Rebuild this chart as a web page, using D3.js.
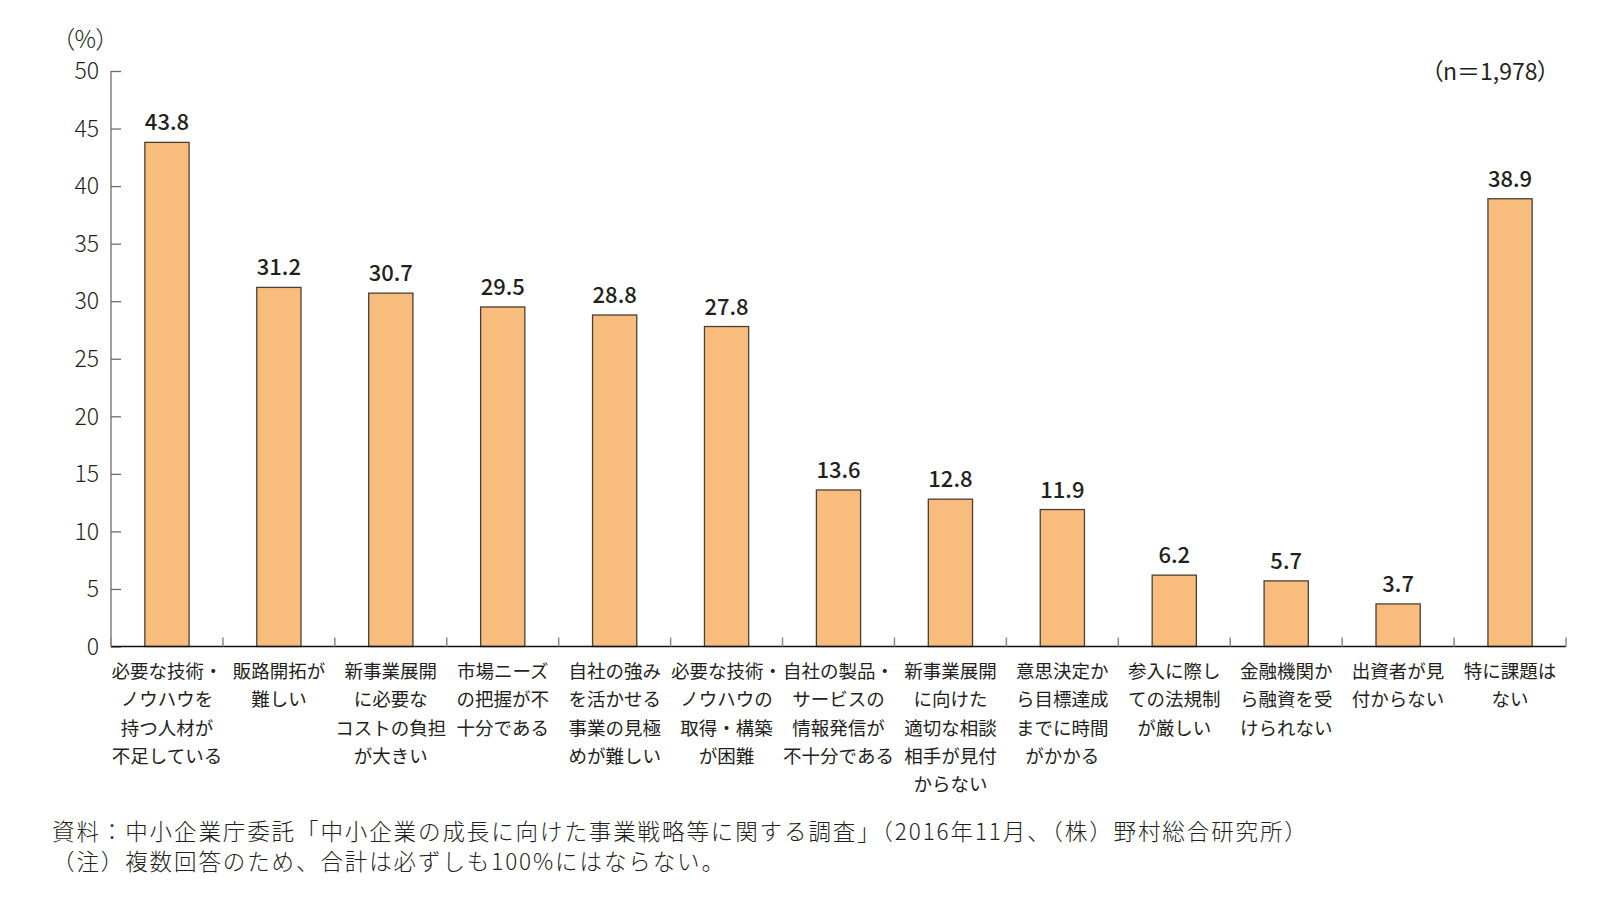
<!DOCTYPE html>
<html>
<head>
<meta charset="utf-8">
<script src="https://cdn.jsdelivr.net/npm/d3@7"></script>
<style>
  html, body { margin: 0; padding: 0; background: #fff; }
  svg text { font-family: "Noto Sans CJK JP", "Noto Sans", sans-serif; fill: #231f20; }
  .palt { font-feature-settings: "palt"; }
</style>
</head>
<body>
<svg id="chart" width="1600" height="901"></svg>
<script>
const categories = [
  ["必要な技術・", "ノウハウを", "持つ人材が", "不足している"],
  ["販路開拓が", "難しい"],
  ["新事業展開", "に必要な", "コストの負担", "が大きい"],
  ["市場ニーズ", "の把握が不", "十分である"],
  ["自社の強み", "を活かせる", "事業の見極", "めが難しい"],
  ["必要な技術・", "ノウハウの", "取得・構築", "が困難"],
  ["自社の製品・", "サービスの", "情報発信が", "不十分である"],
  ["新事業展開", "に向けた", "適切な相談", "相手が見付", "からない"],
  ["意思決定か", "ら目標達成", "までに時間", "がかかる"],
  ["参入に際し", "ての法規制", "が厳しい"],
  ["金融機関か", "ら融資を受", "けられない"],
  ["出資者が見", "付からない"],
  ["特に課題は", "ない"]
];
const values = [43.8, 31.2, 30.7, 29.5, 28.8, 27.8, 13.6, 12.8, 11.9, 6.2, 5.7, 3.7, 38.9];
const yTicks = [0, 5, 10, 15, 20, 25, 30, 35, 40, 45, 50];
const unitLabel = "（%）";
const nLabel = "（n＝1,978）";
const notes = [
  "資料：中小企業庁委託「中小企業の成長に向けた事業戦略等に関する調査」（2016年11月、（株）野村総合研究所）",
  "（注）複数回答のため、合計は必ずしも100%にはならない。"
];

const svg = d3.select("#chart");
const pLeft = 111, pRight = 1566, pTop = 71, pBottom = 646.5;

const ids = categories.map((c, i) => i);
const x = d3.scaleBand().domain(ids).range([pLeft, pRight]).padding(0);
const y = d3.scaleLinear().domain([0, 50]).range([pBottom, pTop]);
const barW = x.bandwidth() * 0.395;

// bars
svg.append("g").selectAll("rect").data(values).enter().append("rect")
  .attr("x", (d, i) => x(i) + (x.bandwidth() - barW) / 2)
  .attr("y", d => y(d))
  .attr("width", barW)
  .attr("height", d => y(0) - y(d))
  .attr("fill", "#f8bc7d")
  .attr("stroke", "#4a3f36")
  .attr("stroke-width", 1.3);

// value labels
svg.append("g").selectAll("text").data(values).enter().append("text")
  .attr("x", (d, i) => x(i) + x.bandwidth() / 2)
  .attr("y", d => y(d) - 12)
  .attr("text-anchor", "middle")
  .attr("font-size", 22)
  .attr("font-weight", 500)
  .text(d => d.toFixed(1));

// y axis
const yAxis = d3.axisRight(y).tickValues(yTicks).tickSize(10).tickFormat("");
const gy = svg.append("g").attr("transform", `translate(${pLeft},0)`).call(yAxis);
gy.select(".domain").attr("stroke", "#6d6d6d").attr("stroke-width", 1.3).attr("d", `M0,${pTop}V${pBottom}`);
gy.selectAll(".tick line").attr("stroke", "#6d6d6d").attr("stroke-width", 1.3);

svg.append("g").selectAll("text").data(yTicks).enter().append("text")
  .attr("x", pLeft - 12)
  .attr("y", d => y(d))
  .attr("dy", "0.36em")
  .attr("text-anchor", "end")
  .attr("font-size", 23)
  .attr("font-weight", 300)
  .text(d => d);

// x axis baseline + category boundary ticks
const boundaries = ids.map(i => x(i) + x.bandwidth()).concat([pLeft]);
svg.append("line").attr("x1", pLeft).attr("x2", pRight).attr("y1", pBottom).attr("y2", pBottom)
  .attr("stroke", "#111").attr("stroke-width", 1.6);
svg.append("g").selectAll("line").data(boundaries).enter().append("line")
  .attr("x1", d => d).attr("x2", d => d)
  .attr("y1", pBottom).attr("y2", pBottom - 9)
  .attr("stroke", "#8a8a8a").attr("stroke-width", 1.5);

// category labels
const cg = svg.append("g");
categories.forEach((lines, i) => {
  const t = cg.append("text")
    .attr("x", x(i) + x.bandwidth() / 2)
    .attr("y", 678)
    .attr("text-anchor", "middle")
    .attr("font-size", 18.5);
  lines.forEach((ln, j) => {
    t.append("tspan").attr("x", x(i) + x.bandwidth() / 2).attr("y", 678 + j * 28.3).text(ln);
  });
});

// unit and n
svg.append("text").attr("class", "palt").attr("x", 108).attr("y", 48).attr("text-anchor", "end")
  .attr("font-size", 24).attr("font-weight", 300).text(unitLabel);
svg.append("text").attr("class", "palt").attr("x", 1549).attr("y", 80).attr("text-anchor", "end")
  .attr("font-size", 23).attr("font-weight", 400).text(nLabel);

// notes
svg.append("g").selectAll("text").data(notes).enter().append("text")
  .attr("x", 52)
  .attr("y", (d, i) => 840 + i * 30)
  .attr("font-size", 22.5)
  .attr("letter-spacing", 1.9)
  .attr("font-weight", 300)
  .text(d => d);
</script>
</body>
</html>
